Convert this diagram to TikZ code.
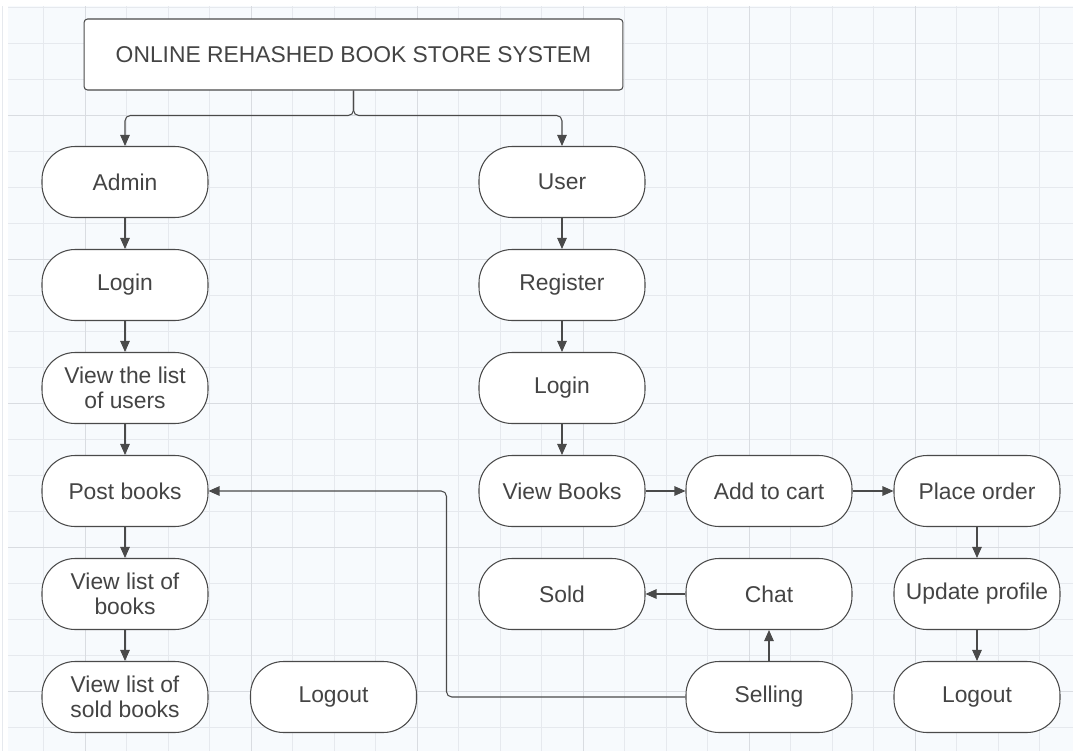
\documentclass[tikz,border=0pt]{standalone}
\usepackage{xcolor}
\usepackage{fontspec}
\setmainfont{Liberation Sans}
\usetikzlibrary{arrows.meta,positioning,calc}

\definecolor{gridbg}{HTML}{F7FAFD}
\definecolor{gridminor}{HTML}{E6E9EE}
\definecolor{gridmajor}{HTML}{D9DCE1}
\definecolor{linegray}{HTML}{4A4A4A}
\definecolor{textgray}{HTML}{444444}

\begin{document}
\begin{tikzpicture}[
		x=0.02cm, y=-0.02cm,
		txt/.style={font=\fontsize{13}{14.5}\selectfont, text=textgray},
		term/.style={txt, draw=linegray, line width=0.6pt, fill=white,
			rectangle, rounded corners=0.66cm, minimum width=3.32cm,
			minimum height=1.42cm, inner sep=1pt, align=center},
		titlebox/.style={txt, draw=linegray, line width=0.6pt, fill=white,
			rectangle, rounded corners=2pt, minimum width=10.78cm,
			minimum height=1.42cm},
		arr/.style={draw=linegray, line width=0.6pt,
			-{Triangle[length=0.22cm,width=0.19cm]}},
	]
	% constants:
	\pgfmathsetmacro{\colA}{125}
	\pgfmathsetmacro{\colB}{333.5}
	\pgfmathsetmacro{\colC}{562}
	\pgfmathsetmacro{\colD}{769}
	\pgfmathsetmacro{\colE}{977}

	\useasboundingbox (0,0) rectangle (1073,751);

	% background grid
	\fill[gridbg] (8,6) rectangle (1073,751);
	\foreach \k in {0,...,25}
		\draw[gridminor, line width=0.5pt] ({2+41.5*\k},6) -- ({2+41.5*\k},751);
	\foreach \k in {0,...,20}
		\draw[gridminor, line width=0.5pt] (8,{7+36*\k}) -- (1073,{7+36*\k});
	\foreach \k in {0,...,6}
		\draw[gridmajor, line width=0.5pt] ({85+166*\k},6) -- ({85+166*\k},751);
	\foreach \k in {0,...,4}
		\draw[gridmajor, line width=0.5pt] (8,{115+144*\k}) -- (1073,{115+144*\k});

	% title
	\node[titlebox] (title) at (353.5,54.5) {ONLINE REHASHED BOOK STORE SYSTEM};

	% admin side
	\node[term] (admin) at (\colA,182) {Admin};
	\node[term] (alogin) at (\colA,285) {Login};
	\node[term] (users) at (\colA,388) {View the list\\of users};
	\node[term] (post) at (\colA,491) {Post books};
	\node[term] (blist) at (\colA,594) {View list of\\books};
	\node[term] (slist) at (\colA,697) {View list of\\sold books};
	\node[term] (alogout) at (\colB,697) {Logout};

	% user side
	\node[term] (user) at (\colC,182) {User};
	\node[term] (register) at (\colC,285) {Register};
	\node[term] (ulogin) at (\colC,388) {Login};
	\node[term] (viewb) at (\colC,491) {View Books};
	\node[term] (cart) at (\colD,491) {Add to cart};
	\node[term] (order) at (\colE,491) {Place order};
	\node[term] (sold) at (\colC,594) {Sold};
	\node[term] (chat) at (\colD,594) {Chat};
	\node[term] (profile) at (\colE,594) {Update profile};
	\node[term] (selling) at (\colD,697) {Selling};
	\node[term] (ulogout) at (\colE,697) {Logout};

	% connectors
	\draw[arr, rounded corners=3pt] (title.south) -- ++(0,25) -| (admin.north);
	\draw[arr, rounded corners=3pt] (title.south) -- ++(0,25) -| (user.north);

	\draw[arr] (admin) -- (alogin);
	\draw[arr] (alogin) -- (users);
	\draw[arr] (users) -- (post);
	\draw[arr] (post) -- (blist);
	\draw[arr] (blist) -- (slist);

	\draw[arr] (user) -- (register);
	\draw[arr] (register) -- (ulogin);
	\draw[arr] (ulogin) -- (viewb);
	\draw[arr] (viewb) -- (cart);
	\draw[arr] (cart) -- (order);
	\draw[arr] (order) -- (profile);
	\draw[arr] (profile) -- (ulogout);
	\draw[arr] (chat) -- (sold);
	\draw[arr] (selling) -- (chat);
	\draw[arr, rounded corners=3pt] (selling.west) -- ++(-239,0) |- (post.east);

\end{tikzpicture}
\end{document}
